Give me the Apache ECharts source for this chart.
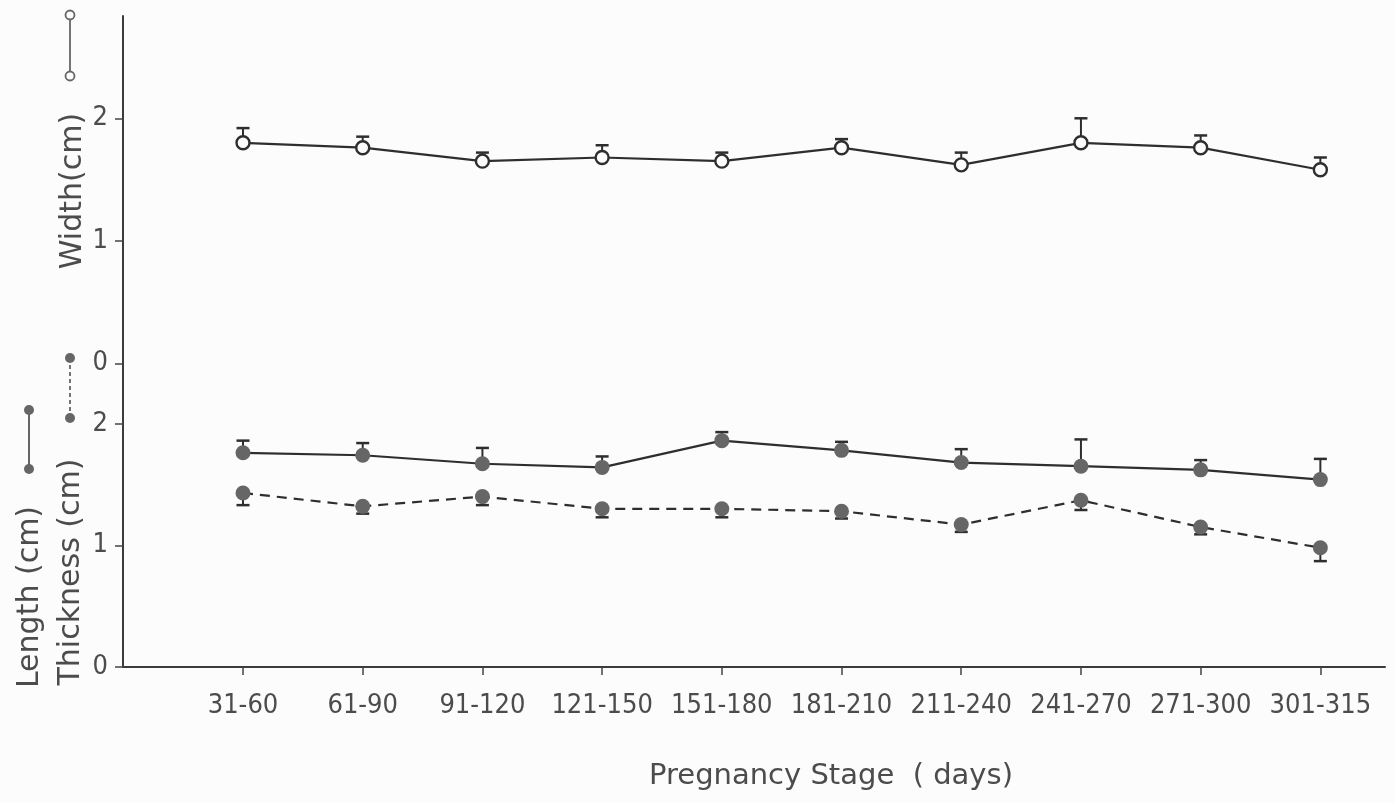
<!DOCTYPE html>
<html>
<head>
<meta charset="utf-8">
<script src="https://cdn.jsdelivr.net/npm/echarts@6/dist/echarts.min.js"></script>
<style>
html,body{margin:0;padding:0;background:#fcfcfc;}
#chart{width:1394px;height:803px;}
</style>
</head>
<body>
<div id="chart"></div>
<script>
// ---- data ----
const categories = ['31-60','61-90','91-120','121-150','151-180','181-210','211-240','241-270','271-300','301-315'];
const widthMean  = [1.80,1.76,1.65,1.68,1.65,1.76,1.62,1.80,1.76,1.58];
const widthErr   = [0.12,0.09,0.07,0.10,0.07,0.07,0.10,0.20,0.10,0.10];
const lengthMean = [1.76,1.74,1.67,1.64,1.86,1.78,1.68,1.65,1.62,1.54];
const lengthErr  = [0.10,0.10,0.13,0.09,0.07,0.07,0.11,0.22,0.08,0.17];
const thickMean  = [1.43,1.32,1.40,1.30,1.30,1.28,1.17,1.37,1.15,0.98];
const thickErr   = [0.10,0.06,0.07,0.07,0.07,0.06,0.06,0.08,0.06,0.11];
const yTicks     = [0,1,2];
const xTitle     = 'Pregnancy Stage  ( days)';
const widthTitle = 'Width(cm)';
const thickTitle = 'Thickness (cm)';
const lengthTitle= 'Length (cm)';

const FONT = "'DejaVu Sans Condensed','DejaVu Sans',sans-serif";
const TFONT = "'DejaVu Sans',sans-serif";
const INK = '#2e2e2e';
const GREY = '#666';
const LABEL = '#4c4c4c';
const BG = '#fcfcfc';

const idx = categories.map((c,i)=>i);
const pts = (arr) => arr.map((v,i)=>[i,v]);
const errPts = (m,e) => m.map((v,i)=>[i,v,e[i]]);

function errRenderer(dir){
  return function(params, api){
    const x = api.value(0), y = api.value(1), e = api.value(2);
    const p0 = api.coord([x,y]);
    const p1 = api.coord([x,y+dir*e]);
    return {type:'group', children:[
      {type:'line', shape:{x1:p0[0],y1:p0[1],x2:p1[0],y2:p1[1]}, style:{stroke:INK,lineWidth:2}},
      {type:'line', shape:{x1:p1[0]-6.5,y1:p1[1],x2:p1[0]+6.5,y2:p1[1]}, style:{stroke:INK,lineWidth:2.5}}
    ]};
  };
}

const chart = echarts.init(document.getElementById('chart'), null, {renderer:'canvas'});
chart.setOption({
  animation:false,
  backgroundColor:BG,
  grid:{left:123, top:16, right:9, bottom:136, containLabel:false, outerBoundsMode:'none'},
  xAxis:{
    type:'value', min:-1.0025, max:9.54,
    splitLine:{show:false},
    axisLine:{show:true, onZero:false, lineStyle:{color:'#3c3c3c', width:2}},
    axisTick:{show:true, length:8, customValues:idx, lineStyle:{color:'#444', width:1.5}},
    axisLabel:{show:true, customValues:idx, margin:25, color:LABEL, fontFamily:FONT, fontSize:27,
      formatter:(v)=>categories[Math.round(v)]}
  },
  yAxis:[
    { // Length / Thickness scale (lower)
      type:'value', position:'left', min:0, max:5.349,
      splitLine:{show:false},
      axisLine:{show:true, onZero:false, lineStyle:{color:'#3c3c3c', width:2}},
      axisTick:{show:true, length:8, customValues:yTicks, lineStyle:{color:'#444', width:1.5}},
      axisLabel:{show:true, customValues:yTicks, margin:15, color:LABEL, fontFamily:FONT, fontSize:27,
        formatter:(v)=>String(v)}
    },
    { // Width scale (upper)
      type:'value', position:'left', min:-2.479, max:2.835,
      splitLine:{show:false},
      axisLine:{show:false, onZero:false},
      axisTick:{show:true, length:8, customValues:yTicks, lineStyle:{color:'#444', width:1.5}},
      axisLabel:{show:true, customValues:yTicks, margin:15, color:LABEL, fontFamily:FONT, fontSize:27,
        formatter:(v)=>String(v)}
    }
  ],
  series:[
    {type:'custom', name:'Width SE', yAxisIndex:1, z:1, renderItem:errRenderer(1),
      encode:{x:0,y:1}, data:errPts(widthMean,widthErr)},
    {type:'custom', name:'Length SE', yAxisIndex:0, z:1, renderItem:errRenderer(1),
      encode:{x:0,y:1}, data:errPts(lengthMean,lengthErr)},
    {type:'custom', name:'Thickness SE', yAxisIndex:0, z:1, renderItem:errRenderer(-1),
      encode:{x:0,y:1}, data:errPts(thickMean,thickErr)},
    {type:'line', name:'Width', yAxisIndex:1, z:3, data:pts(widthMean),
      symbol:'circle', symbolSize:13, showAllSymbol:true,
      itemStyle:{color:BG, borderColor:INK, borderWidth:2.4},
      lineStyle:{color:INK, width:2.2}},
    {type:'line', name:'Length', yAxisIndex:0, z:3, data:pts(lengthMean),
      symbol:'circle', symbolSize:15, showAllSymbol:true,
      itemStyle:{color:GREY, borderColor:GREY, borderWidth:0},
      lineStyle:{color:INK, width:2.2}},
    {type:'line', name:'Thickness', yAxisIndex:0, z:3, data:pts(thickMean),
      symbol:'circle', symbolSize:15, showAllSymbol:true,
      itemStyle:{color:GREY, borderColor:GREY, borderWidth:0},
      lineStyle:{color:INK, width:2.2, type:[10,7]}}
  ],
  graphic:[
    // axis titles
    {type:'text', x:73, y:191, rotation:Math.PI/2,
      style:{text:widthTitle, fill:LABEL, font:"30px "+TFONT, align:'center', verticalAlign:'middle'}},
    {type:'text', x:71, y:572, rotation:Math.PI/2,
      style:{text:thickTitle, fill:LABEL, font:"30px "+TFONT, align:'center', verticalAlign:'middle'}},
    {type:'text', x:30, y:597, rotation:Math.PI/2,
      style:{text:lengthTitle, fill:LABEL, font:"30px "+TFONT, align:'center', verticalAlign:'middle'}},
    {type:'text', x:831, y:776,
      style:{text:xTitle, fill:LABEL, font:"29px "+TFONT, align:'center', verticalAlign:'middle'}},
    // key symbols
    {type:'line', shape:{x1:70,y1:15,x2:70,y2:76}, style:{stroke:GREY,lineWidth:1.8}},
    {type:'circle', shape:{cx:70,cy:15,r:4.5}, style:{fill:BG,stroke:GREY,lineWidth:1.8}},
    {type:'circle', shape:{cx:70,cy:76,r:4.5}, style:{fill:BG,stroke:GREY,lineWidth:1.8}},
    {type:'line', shape:{x1:70,y1:358,x2:70,y2:418}, style:{stroke:GREY,lineWidth:1.8,lineDash:[4,3]}},
    {type:'circle', shape:{cx:70,cy:358,r:5}, style:{fill:GREY}},
    {type:'circle', shape:{cx:70,cy:418,r:5}, style:{fill:GREY}},
    {type:'line', shape:{x1:29,y1:410,x2:29,y2:469}, style:{stroke:GREY,lineWidth:2}},
    {type:'circle', shape:{cx:29,cy:410,r:5}, style:{fill:GREY}},
    {type:'circle', shape:{cx:29,cy:469,r:5}, style:{fill:GREY}}
  ]
});
</script>
</body>
</html>
